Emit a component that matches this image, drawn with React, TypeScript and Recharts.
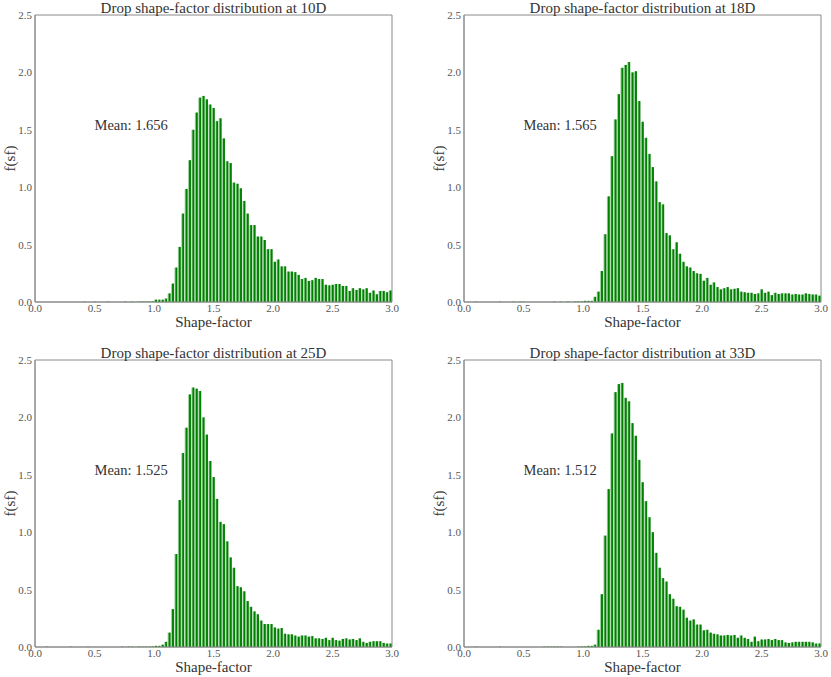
import React from "react";
import { BarChart, Bar, XAxis, YAxis, ReferenceDot, ReferenceArea } from "recharts";

// histogram bins over 0..3 (bin width ~0.0286)
const BIN_COUNT = 105;
const BIN_WIDTH = 3 / BIN_COUNT;
const binCenters = Array.from({ length: BIN_COUNT }, (_, i) => (i + 0.5) * BIN_WIDTH);

const xTicks = [0, 0.5, 1, 1.5, 2, 2.5, 3];
const yTicks = [0, 0.5, 1, 1.5, 2, 2.5];

const stations = ["10D", "18D", "25D", "33D"];
const means = [1.656, 1.565, 1.525, 1.512];

// f(sf) per bin
const density10D = [
  0, 0, 0, 0, 0, 0, 0, 0, 0, 0,
  0, 0, 0, 0, 0.003, 0, 0, 0.003, 0, 0,
  0, 0.003, 0, 0, 0, 0, 0.003, 0, 0.003, 0,
  0.003, 0.004, 0.003, 0.005, 0.005, 0.02, 0.02, 0.02, 0.03, 0.075,
  0.16, 0.3, 0.48, 0.77, 0.985, 1.235, 1.5, 1.65, 1.78, 1.795,
  1.765, 1.72, 1.69, 1.575, 1.6, 1.425, 1.226, 1.21, 1.04, 1.03,
  0.99, 0.88, 0.77, 0.67, 0.67, 0.57, 0.57, 0.54, 0.46, 0.46,
  0.35, 0.37, 0.31, 0.31, 0.265, 0.265, 0.26, 0.236, 0.2, 0.21,
  0.183, 0.19, 0.21, 0.2, 0.2, 0.15, 0.145, 0.15, 0.157, 0.157,
  0.14, 0.14, 0.096, 0.12, 0.105, 0.12, 0.11, 0.12, 0.08, 0.1,
  0.067, 0.096, 0.096, 0.085, 0.1,
];

const density18D = [
  0, 0, 0, 0.003, 0, 0, 0, 0, 0, 0,
  0.003, 0, 0, 0, 0.003, 0, 0.003, 0.003, 0, 0,
  0, 0, 0, 0, 0, 0, 0.003, 0, 0.003, 0,
  0.004, 0, 0.004, 0.005, 0.005, 0.01, 0.01, 0.01, 0.045, 0.09,
  0.27, 0.59, 0.92, 1.27, 1.59, 1.81, 2.04, 2.065, 2.09, 2.0,
  2.01, 1.75, 1.57, 1.43, 1.29, 1.175, 1.05, 0.87, 0.85, 0.6,
  0.58, 0.46, 0.52, 0.42, 0.35, 0.31, 0.3, 0.27, 0.25, 0.245,
  0.185, 0.21, 0.15, 0.17, 0.13, 0.11, 0.12, 0.13, 0.11, 0.115,
  0.12, 0.09, 0.085, 0.08, 0.08, 0.07, 0.075, 0.11, 0.08, 0.09,
  0.06, 0.08, 0.07, 0.075, 0.075, 0.075, 0.065, 0.07, 0.065, 0.065,
  0.075, 0.07, 0.065, 0.065, 0.055,
];

const density25D = [
  0, 0, 0, 0.003, 0, 0, 0, 0, 0, 0,
  0.003, 0, 0, 0, 0, 0.003, 0, 0, 0, 0,
  0, 0, 0, 0, 0, 0.003, 0, 0.003, 0.003, 0,
  0.003, 0.003, 0.004, 0.003, 0.005, 0.01, 0.01, 0.02, 0.045, 0.125,
  0.33, 0.81, 1.28, 1.69, 1.91, 2.2, 2.26, 2.25, 2.23, 2.0,
  1.85, 1.62, 1.48, 1.29, 1.09, 1.07, 0.92, 0.78, 0.69, 0.53,
  0.52, 0.485, 0.4, 0.35, 0.31, 0.285, 0.23, 0.2, 0.2, 0.2,
  0.17, 0.16, 0.165, 0.115, 0.11, 0.11, 0.1, 0.09, 0.1, 0.1,
  0.09, 0.095, 0.075, 0.075, 0.07, 0.08, 0.06, 0.08, 0.06, 0.055,
  0.07, 0.075, 0.065, 0.07, 0.06, 0.075, 0.045, 0.035, 0.045, 0.05,
  0.05, 0.05, 0.035, 0.03, 0.03,
];

const density33D = [
  0, 0, 0, 0.003, 0, 0, 0, 0, 0, 0,
  0.003, 0, 0, 0, 0, 0, 0, 0, 0, 0,
  0, 0, 0, 0.003, 0.003, 0.003, 0.003, 0.003, 0.003, 0,
  0, 0, 0, 0.003, 0.005, 0.005, 0.01, 0.01, 0.02, 0.15,
  0.46, 0.97, 1.375, 1.86, 2.22, 2.29, 2.3, 2.17, 2.14, 1.95,
  1.84, 1.63, 1.435, 1.27, 1.13, 1.0, 0.82, 0.69, 0.6, 0.57,
  0.46, 0.42, 0.355, 0.35, 0.325, 0.255, 0.23, 0.24, 0.195, 0.195,
  0.145, 0.15, 0.125, 0.115, 0.11, 0.1, 0.1, 0.105, 0.1, 0.105,
  0.08, 0.1, 0.08, 0.07, 0.045, 0.09, 0.05, 0.065, 0.065, 0.07,
  0.06, 0.07, 0.06, 0.06, 0.04, 0.035, 0.04, 0.045, 0.045, 0.045,
  0.045, 0.045, 0.04, 0.03, 0.03,
];

const densities = [density10D, density18D, density25D, density33D];

const FONT = '"Liberation Serif", "Times New Roman", serif';
const TEXT = "#333";
const SPINE = "#8a8a8a";
const GREEN = "#008000";
const GREEN_LIGHT = "#9ccf9c";

const CHART_W = 415;
const CHART_H = 338;

// matplotlib-ish bar: pale left edge, dark green body
function HistBar(props: any) {
  const { x, y, width, height } = props;
  if (!height || height <= 0) return null;
  const cx = x + width / 2;
  const w = 2.9;
  return (
    <g>
      <rect x={cx - w / 2} y={y} width={w} height={height} fill={GREEN_LIGHT} />
      <rect x={cx - w / 2 + 1} y={y} width={w - 1} height={height} fill={GREEN} />
    </g>
  );
}

function Panel({ station, mean, values }: { station: string; mean: number; values: number[] }) {
  const data = binCenters.map((sf, i) => ({ sf, f: values[i] ?? 0 }));
  const tickStyle = { fontSize: 11, fill: "#555", fontFamily: FONT };

  return (
    <BarChart
      width={CHART_W}
      height={CHART_H}
      data={data}
      margin={{ top: 15, right: 23, bottom: 0, left: 0 }}
    >
      <XAxis
        xAxisId="b"
        dataKey="sf"
        type="number"
        domain={[0, 3]}
        ticks={xTicks}
        tickFormatter={(v: number) => v.toFixed(1)}
        tick={tickStyle}
        tickSize={0}
        tickMargin={2}
        tickLine={false}
        axisLine={{ stroke: SPINE }}
        height={36}
        allowDataOverflow
        label={{
          content: (p: any) => (
            <text
              x={p.viewBox.x + p.viewBox.width / 2}
              y={p.viewBox.y + 24.5}
              textAnchor="middle"
              fontSize={15}
              fontFamily={FONT}
              fill={TEXT}
            >
              Shape-factor
            </text>
          ),
        }}
      />
      <YAxis
        yAxisId="l"
        type="number"
        domain={[0, 2.5]}
        ticks={yTicks}
        tickFormatter={(v: number) => v.toFixed(1)}
        tick={tickStyle}
        tickSize={0}
        tickMargin={3}
        tickLine={false}
        axisLine={{ stroke: SPINE }}
        width={35}
        allowDataOverflow
        label={{
          content: (p: any) => {
            const cx = p.viewBox.x + 10;
            const cy = p.viewBox.y + p.viewBox.height / 2;
            return (
              <text
                x={cx}
                y={cy}
                transform={`rotate(-90 ${cx} ${cy})`}
                textAnchor="middle"
                dominantBaseline="central"
                fontSize={15}
                fontFamily={FONT}
                fill={TEXT}
              >
                f(sf)
              </text>
            );
          },
        }}
      />
      {/* full frame + title sitting on its top edge */}
      <ReferenceArea
        xAxisId="b"
        yAxisId="l"
        x1={0}
        x2={3}
        y1={0}
        y2={2.5}
        fill="none"
        fillOpacity={0}
        stroke={SPINE}
        strokeWidth={1}
        ifOverflow="visible"
        label={{
          content: (p: any) => (
            <text
              x={p.viewBox.x + p.viewBox.width / 2}
              y={p.viewBox.y - 2.5}
              textAnchor="middle"
              fontSize={15}
              fontFamily={FONT}
              fill={TEXT}
            >
              {`Drop shape-factor distribution at ${station}`}
            </text>
          ),
        }}
      />
      <Bar
        xAxisId="b"
        yAxisId="l"
        dataKey="f"
        barSize={3}
        shape={HistBar}
        isAnimationActive={false}
      />
      <ReferenceDot
        xAxisId="b"
        yAxisId="l"
        x={0.5}
        y={1.5}
        r={0}
        fill="none"
        stroke="none"
        label={{
          content: (p: any) => (
            <text
              x={p.viewBox.x}
              y={p.viewBox.y}
              textAnchor="start"
              fontSize={14.5}
              fontFamily={FONT}
              fill={TEXT}
            >
              {`Mean: ${mean.toFixed(3)}`}
            </text>
          ),
        }}
      />
    </BarChart>
  );
}

const positions = [
  { left: 0, top: 0 },
  { left: 429, top: 0 },
  { left: 0, top: 345 },
  { left: 429, top: 345 },
];

export default function App() {
  return (
    <div
      style={{
        position: "fixed",
        left: 0,
        top: 0,
        width: 831,
        height: 677,
        background: "#fff",
        overflow: "hidden",
      }}
    >
      {stations.map((st, i) => (
        <div key={st} style={{ position: "absolute", left: positions[i].left, top: positions[i].top }}>
          <Panel station={st} mean={means[i]} values={densities[i]} />
        </div>
      ))}
    </div>
  );
}
